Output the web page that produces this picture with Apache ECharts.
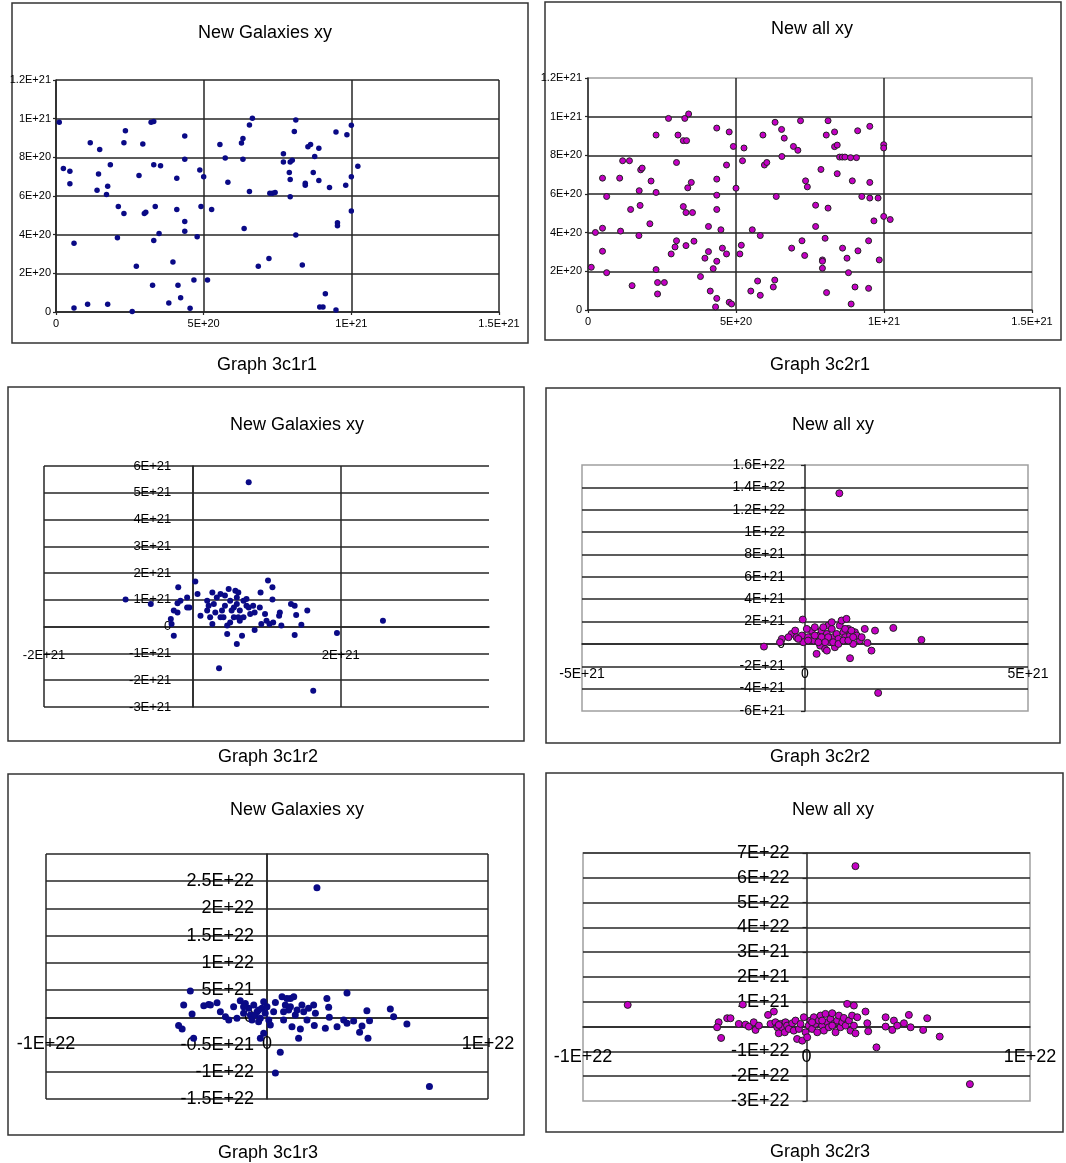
<!DOCTYPE html>
<html><head><meta charset="utf-8">
<script src="https://cdn.jsdelivr.net/npm/echarts@6/dist/echarts.min.js"></script>
<style>html,body{margin:0;padding:0;background:#fff}#c{width:1066px;height:1163px}</style>
</head><body><div id="c"></div>
<script>
// ---------- DATA ----------
// Graph 3c1r1 — New Galaxies xy, units of 1E20
const g3c1r1 = [[0.11,9.81],[0.25,7.42],[0.47,7.28],[0.47,6.64],[0.61,3.56],[0.61,0.21],[1.07,0.40],[1.16,8.76],[1.48,8.40],[1.44,7.14],[1.39,6.30],[1.75,6.51],[1.71,6.08],[1.75,0.40],[1.84,7.62],[2.11,5.46],[2.08,3.84],[2.30,5.09],[2.30,8.76],[2.35,9.38],[2.58,0.03],[2.72,2.36],[2.81,7.06],[2.94,8.69],[2.99,5.09],[3.04,5.16],[3.22,9.81],[3.31,9.85],[3.31,7.62],[3.36,5.46],[3.31,3.70],[3.27,1.38],[3.49,4.06],[3.54,7.56],[3.96,2.58],[3.82,0.46],[4.09,6.92],[4.09,5.30],[4.13,1.38],[4.22,0.74],[4.36,9.10],[4.36,7.90],[4.36,4.68],[4.36,4.18],[4.54,0.19],[4.67,1.65],[4.78,3.89],[4.87,7.35],[4.91,5.46],[5.00,7.00],[5.13,1.65],[5.27,5.30],[5.55,8.67],[5.73,7.97],[5.82,6.71],[6.28,8.74],[6.33,8.97],[6.33,7.90],[6.37,4.32],[6.55,9.67],[6.55,6.23],[6.65,10.02],[6.85,2.36],[7.21,2.77],[7.24,6.14],[7.33,6.14],[7.42,6.18],[7.70,8.19],[7.70,7.76],[7.90,7.21],[7.93,7.76],[8.00,7.85],[7.93,6.85],[7.93,5.96],[8.12,9.93],[8.07,9.33],[8.12,3.98],[8.34,2.43],[8.44,6.66],[8.44,6.56],[8.53,8.55],[8.62,8.67],[8.71,7.21],[8.76,8.04],[8.90,8.47],[8.90,6.80],[8.93,0.26],[9.04,0.26],[9.12,0.95],[9.26,6.44],[9.48,9.31],[9.48,0.10],[9.53,4.61],[9.53,4.46],[9.81,6.56],[9.85,9.17],[10.0,9.66],[10.0,6.99],[10.0,5.23],[10.22,7.54]];
// Graph 3c2r1 — New all xy, units of 1E20
const g3c2r1 = [[0.11,2.21],[0.25,4.01],[0.49,4.23],[0.49,6.82],[0.49,3.04],[0.63,5.87],[0.63,1.93],[1.07,6.82],[1.10,4.08],[1.17,7.72],[1.40,7.72],[1.44,5.20],[1.49,1.26],[1.73,6.17],[1.72,3.85],[1.76,5.41],[1.78,7.25],[1.83,7.34],[2.09,4.46],[2.13,6.67],[2.30,9.05],[2.30,6.08],[2.30,2.09],[2.35,1.42],[2.35,0.83],[2.58,1.42],[2.72,9.91],[2.81,2.90],[2.94,3.26],[2.99,3.58],[2.99,7.63],[3.04,9.05],[3.22,5.35],[3.22,8.76],[3.27,9.91],[3.33,8.76],[3.31,5.04],[3.31,3.33],[3.37,6.32],[3.40,10.14],[3.49,6.60],[3.53,5.04],[3.58,3.56],[3.80,1.73],[3.95,2.68],[4.07,3.02],[4.07,4.32],[4.13,0.98],[4.23,2.14],[4.31,0.16],[4.35,9.41],[4.35,6.77],[4.35,5.94],[4.35,5.20],[4.35,2.52],[4.35,0.60],[4.49,4.15],[4.54,3.20],[4.68,7.50],[4.68,2.90],[4.77,9.21],[4.77,0.40],[4.85,0.31],[4.91,8.46],[5.00,6.30],[5.13,2.90],[5.18,3.35],[5.22,7.72],[5.27,8.38],[5.50,0.98],[5.55,4.15],[5.73,1.50],[5.82,3.85],[5.82,0.76],[5.91,9.05],[5.96,7.50],[6.04,7.63],[6.26,1.19],[6.32,9.71],[6.31,1.55],[6.36,5.87],[6.54,9.34],[6.55,7.94],[6.63,8.89],[6.88,3.20],[6.94,8.46],[7.18,9.79],[7.09,8.26],[7.32,2.82],[7.23,3.58],[7.35,6.68],[7.41,6.37],[7.69,5.42],[7.69,4.32],[7.87,7.27],[7.92,2.59],[7.92,2.52],[7.92,2.16],[8.01,3.71],[8.05,9.05],[8.06,0.90],[8.11,9.79],[8.11,5.27],[8.33,9.21],[8.33,8.45],[8.42,8.53],[8.42,7.05],[8.50,7.91],[8.59,7.91],[8.60,3.20],[8.68,7.91],[8.75,2.68],[8.80,1.93],[8.87,7.88],[8.89,0.31],[8.93,6.68],[9.02,1.19],[9.07,7.88],[9.11,9.27],[9.12,3.06],[9.25,5.87],[9.48,3.58],[9.48,1.12],[9.52,9.50],[9.52,6.60],[9.52,5.79],[9.66,4.61],[9.80,5.79],[9.84,2.59],[9.99,8.55],[9.99,8.38],[9.99,4.84],[10.21,4.68]];
// Graph 3c1r2 — New Galaxies xy, units of 1E21
const g3c1r2 = [[0.76,5.39],[-0.90,1.01],[-0.56,0.85],[-0.19,1.47],[0.04,1.69],[-0.20,0.87],[-0.25,0.60],[-0.20,0.53],[-0.29,0.29],[-0.28,0.10],[-0.25,-0.34],[-0.07,1.09],[-0.04,0.72],[0.07,1.22],[0.11,0.41],[0.20,0.60],[0.27,1.28],[0.27,0.10],[0.29,0.85],[0.33,1.09],[0.38,1.22],[0.40,0.60],[0.42,0.35],[0.47,0.04],[0.47,-0.27],[0.49,1.41],[0.51,0.97],[0.53,0.60],[0.56,0.35],[0.58,1.34],[0.60,0.85],[0.60,-0.65],[0.62,1.28],[0.64,0.60],[0.64,0.22],[0.67,-0.34],[0.69,0.97],[0.73,1.03],[0.76,0.72],[0.82,0.78],[0.84,0.53],[0.84,-0.12],[0.91,0.72],[0.92,1.28],[0.93,0.10],[1.00,0.22],[1.02,1.72],[1.04,0.10],[1.08,1.47],[1.08,1.01],[1.18,0.53],[1.17,0.41],[1.20,0.04],[1.33,0.85],[1.38,0.78],[1.40,0.44],[1.38,-0.31],[1.47,0.07],[1.55,0.60],[1.95,-0.24],[2.57,0.22],[0.36,-1.55],[1.63,-2.39],[0.22,0.78],[0.31,0.53],[0.44,0.78],[0.51,0.16],[0.69,0.35],[0.78,0.47],[0.98,0.47],[1.09,0.16],[-0.07,0.72],[-0.16,0.97],[0.20,0.97],[0.60,1.09],[0.44,1.16],[0.73,0.78],[0.56,0.72],[0.38,0.35],[0.24,0.35],[0.62,0.35]];
// Graph 3c2r2 — New all xy, units of 1E21
const g3c2r2 = [[0.77,13.47],[-0.05,2.18],[-0.92,-0.24],[-0.52,0.45],[-0.56,0.15],[-0.30,0.89],[-0.22,1.19],[-0.19,0.60],[-0.07,0.75],[-0.04,0.15],[0.07,0.60],[0.15,1.19],[0.19,0.30],[0.22,1.49],[0.26,-0.89],[0.30,0.75],[0.34,-0.15],[0.37,1.19],[0.41,0.30],[0.45,-0.45],[0.49,0.89],[0.52,1.64],[0.56,0.15],[0.60,1.34],[0.63,0.60],[0.67,-0.30],[0.71,0.89],[0.75,0.45],[0.78,1.64],[0.82,2.09],[0.86,1.04],[0.90,0.60],[0.93,2.24],[0.97,1.34],[1.01,0.75],[1.01,-1.28],[1.08,0.00],[1.12,1.04],[1.23,0.30],[1.34,1.34],[1.40,0.09],[1.49,-0.60],[1.57,1.19],[1.64,-4.38],[1.98,1.43],[2.61,0.36],[0.37,0.60],[0.52,0.60],[0.45,0.15],[0.63,0.15],[0.75,0.00],[0.90,1.34],[1.04,1.19],[1.16,0.75],[0.60,1.94],[0.41,1.49],[0.22,0.75],[0.07,0.30],[0.30,0.15],[0.49,-0.60],[0.86,0.30],[0.97,0.30],[1.08,0.60],[1.27,0.60],[-0.37,0.60],[-0.15,0.45],[0.04,1.34]];
// Graph 3c1r3 — New Galaxies xy, units of 1E21
const g3c1r3 = [[2.26,23.8],[7.35,-12.7],[-3.47,4.82],[-3.77,2.26],[-4.00,-1.52],[-3.84,-2.13],[-3.39,0.61],[-2.86,2.13],[-2.64,2.38],[-2.26,2.68],[-3.32,-3.84],[-2.11,1.04],[-1.88,0.12],[-1.73,-0.49],[-1.51,1.95],[-1.36,-0.18],[-1.21,3.05],[-1.06,0.73],[-0.98,2.56],[-0.83,1.65],[-0.75,0.43],[-0.68,-0.49],[-0.60,2.26],[-0.45,1.04],[-0.38,-0.79],[-0.30,-3.84],[-0.23,1.65],[-0.15,2.87],[-0.15,-2.93],[-0.08,0.73],[0.00,1.95],[0.08,-0.49],[0.15,-1.40],[0.30,1.04],[0.38,2.74],[0.38,-10.24],[0.60,-6.40],[0.68,3.78],[0.75,-0.49],[0.83,2.26],[0.98,1.34],[1.06,3.48],[1.13,-1.71],[1.21,3.78],[1.28,0.43],[1.43,-3.84],[1.51,-2.13],[1.58,2.26],[1.66,1.04],[1.81,-0.49],[1.88,1.65],[2.11,2.26],[2.14,-1.52],[2.19,0.73],[2.64,-2.01],[2.71,3.48],[2.79,1.83],[2.82,0.00],[3.17,-1.71],[3.47,-0.49],[3.62,4.45],[3.62,-1.10],[3.92,-0.67],[4.19,-2.74],[4.30,-1.59],[4.52,1.22],[4.57,-3.84],[4.64,-0.61],[5.58,1.52],[5.73,0.12],[6.33,-1.22],[-1.06,1.95],[-0.53,0.43],[-0.38,1.34],[0.90,3.48],[1.36,1.34],[0.75,1.04],[1.06,1.95],[-0.30,-0.18],[-2.56,2.26]];
// Graph 3c2r3 — New all xy, units of 1E21
const g3c2r3 = [[2.19,64.7],[7.31,-23.2],[-8.00,8.76],[-2.85,8.90],[-3.93,1.75],[-4.00,-0.27],[-3.82,-4.58],[-3.55,3.37],[-3.40,3.37],[-3.03,1.08],[-2.73,0.81],[-2.58,0.00],[-2.36,1.75],[-2.28,-1.35],[-2.13,0.40],[-1.72,4.72],[-1.61,1.08],[-1.46,6.06],[-1.39,1.75],[-1.31,-0.27],[-1.24,-2.70],[-1.16,1.08],[-1.09,-0.27],[-0.97,-2.29],[-0.94,1.75],[-0.87,0.40],[-0.79,-0.94],[-0.64,1.35],[-0.57,-1.62],[-0.49,2.43],[-0.42,-4.99],[-0.34,-0.94],[-0.27,1.08],[-0.19,-5.66],[-0.12,3.77],[-0.04,-2.29],[0.03,-4.31],[0.10,0.40],[0.18,2.43],[0.25,-0.94],[0.33,3.77],[0.40,1.08],[0.48,-2.29],[0.55,2.43],[0.63,4.45],[0.70,0.40],[0.78,-1.62],[0.85,5.12],[0.93,1.75],[1.00,-0.27],[1.07,3.10],[1.15,5.39],[1.22,1.08],[1.30,-2.29],[1.37,2.43],[1.45,4.45],[1.52,-0.27],[1.60,1.75],[1.67,3.50],[1.75,0.40],[1.82,9.16],[1.90,2.43],[1.97,-1.62],[2.04,4.45],[2.12,0.40],[2.19,-2.70],[2.27,3.77],[2.64,6.06],[2.72,1.35],[2.76,-1.89],[3.13,-8.36],[3.54,3.77],[3.54,0.00],[3.84,-1.35],[3.91,2.43],[4.06,0.40],[4.36,1.35],[4.58,4.72],[4.66,-0.27],[5.22,-1.35],[5.40,3.37],[5.96,-4.04],[2.12,8.49],[0.25,1.75],[0.70,2.43],[1.15,0.40],[-1.24,0.67]];

// Tick labels (as printed on the picture), listed from axis min upwards
const x3c1r1 = ['0','5E+20','1E+21','1.5E+21'];
const y3c1r1 = ['0','2E+20','4E+20','6E+20','8E+20','1E+21','1.2E+21'];
const x3c2r1 = ['0','5E+20','1E+21','1.5E+21'];
const y3c2r1 = ['0','2E+20','4E+20','6E+20','8E+20','1E+21','1.2E+21'];
const x3c1r2 = ['-2E+21','','2E+21',''];
const y3c1r2 = ['-3E+21','-2E+21','-1E+21','0','1E+21','2E+21','3E+21','4E+21','5E+21','6E+21'];
const x3c2r2 = ['-5E+21','0','5E+21'];
const y3c2r2 = ['-6E+21','-4E+21','-2E+21','0','2E+21','4E+21','6E+21','8E+21','1E+22','1.2E+22','1.4E+22','1.6E+22'];
const x3c1r3 = ['-1E+22','0','1E+22'];
const y3c1r3 = ['-1.5E+22','-1E+22','-0.5E+21','0','5E+21','1E+22','1.5E+22','2E+22','2.5E+22',''];
const x3c2r3 = ['-1E+22','0','1E+22'];
const y3c2r3 = ['-3E+22','-2E+22','-1E+22','0','1E+21','2E+21','3E+21','4E+22','5E+22','6E+22','7E+22'];

const chartTitles = ['New Galaxies xy','New all xy','New Galaxies xy','New all xy','New Galaxies xy','New all xy'];
const captions = ['Graph 3c1r1','Graph 3c2r1','Graph 3c1r2','Graph 3c2r2','Graph 3c1r3','Graph 3c2r3'];

// ---------- LAYOUT / STYLE ----------
const FONT = '"Liberation Sans", Arial, sans-serif';
const NAVY = '#0a0a86', MAG = '#c400c4', LINE = '#262626', GRAY = '#a0a0a0';

const panels = [
  { data: g3c1r1, unit: 1e20, xl: x3c1r1, yl: y3c1r1,
    box: [12, 3, 516, 340], title: [265, 33], cap: [267, 365],
    grid: { left: 56, top: 80, width: 443, height: 232 }, border: false,
    x: { min: 0, max: 1.5e21, interval: 5e20 }, y: { min: 0, max: 1.2e21, interval: 2e20 },
    fs: 11, xm: 6, ym: 5, tick: 3,
    xSplit: { show: true, min: true, max: true }, ySplit: { show: true, min: true, max: true },
    color: NAVY, stroke: null, size: 5.5 },
  { data: g3c2r1, unit: 1e20, xl: x3c2r1, yl: y3c2r1,
    box: [545, 2, 516, 338], title: [812, 29], cap: [820, 365],
    grid: { left: 588, top: 78, width: 444, height: 232 }, border: true,
    x: { min: 0, max: 1.5e21, interval: 5e20 }, y: { min: 0, max: 1.2e21, interval: 2e20 },
    fs: 11, xm: 6, ym: 6, tick: 3,
    xSplit: { show: true, min: false, max: false }, ySplit: { show: true, min: false, max: false },
    color: MAG, stroke: '#222', size: 6 },
  { data: g3c1r2, unit: 1e21, xl: x3c1r2, yl: y3c1r2,
    box: [8, 387, 516, 354], title: [297, 425], cap: [268, 757],
    grid: { left: 44, top: 466, width: 445, height: 241 }, border: false,
    x: { min: -2e21, max: 4e21, interval: 2e21 }, y: { min: -3e21, max: 6e21, interval: 1e21 },
    fs: 13, xm: 22, ym: 21, tick: 0,
    xSplit: { show: true, min: true, max: false }, ySplit: { show: true, min: true, max: true },
    color: NAVY, stroke: null, size: 6 },
  { data: g3c2r2, unit: 1e21, xl: x3c2r2, yl: y3c2r2,
    box: [546, 388, 514, 355], title: [833, 425], cap: [820, 757],
    grid: { left: 582, top: 465, width: 446, height: 246 }, border: true,
    x: { min: -5e21, max: 5e21, interval: 5e21 }, y: { min: -6e21, max: 1.6e22, interval: 2e21 },
    fs: 14, xm: 23, ym: 20, tick: 0, yTick: 4,
    xSplit: { show: false }, ySplit: { show: true, min: false, max: false },
    color: MAG, stroke: '#222', size: 7 },
  { data: g3c1r3, unit: 1e21, xl: x3c1r3, yl: y3c1r3,
    box: [8, 774, 516, 361], title: [297, 810], cap: [268, 1153],
    grid: { left: 46, top: 854, width: 442, height: 245 }, border: false,
    x: { min: -1e22, max: 1e22, interval: 1e22 }, y: { min: -1.5e22, max: 3e22, interval: 5e21 },
    fs: 18, xm: 18, ym: 13, tick: 0,
    xSplit: { show: true, min: true, max: true }, ySplit: { show: true, min: true, max: false },
    color: NAVY, stroke: null, size: 7 },
  { data: g3c2r3, unit: 1e21, xl: x3c2r3, yl: y3c2r3,
    box: [546, 773, 517, 359], title: [833, 810], cap: [820, 1152],
    grid: { left: 583, top: 853, width: 447, height: 248 }, border: true,
    x: { min: -1e22, max: 1e22, interval: 1e22 }, y: { min: -3e22, max: 7e22, interval: 1e22 },
    fs: 18, xm: 21, ym: 17, tick: 0, yTick: 4,
    xSplit: { show: false }, ySplit: { show: true, min: false, max: false },
    color: MAG, stroke: '#222', size: 7 }
];

function labelFn(labels, ax) {
  return function (v) {
    const i = Math.round((v - ax.min) / ax.interval);
    return labels[i] !== undefined ? labels[i] : '';
  };
}

const grids = [], xAxes = [], yAxes = [], series = [], graphics = [];
panels.forEach(function (p, i) {
  grids.push(Object.assign({ show: p.border, borderColor: GRAY, borderWidth: 1.5,
    backgroundColor: 'transparent', containLabel: false, outerBoundsMode: 'none' }, p.grid));
  // shift each axis so that it crosses the other axis at zero (Excel style)
  const yOff = -((0 - p.x.min) / (p.x.max - p.x.min)) * p.grid.width;
  const xOff = -((0 - p.y.min) / (p.y.max - p.y.min)) * p.grid.height;
  const common = function (ax, labels, margin, split, tickLen, pos, off) {
    return {
      gridIndex: i, type: 'value', position: pos, offset: off,
      min: ax.min, max: ax.max, interval: ax.interval,
      axisLine: { show: true, onZero: false, lineStyle: { color: LINE, width: 1.5 } },
      axisTick: { show: tickLen > 0, length: tickLen || 3, inside: false, lineStyle: { color: LINE, width: 1.2 } },
      axisLabel: { show: true, margin: margin, color: '#000', fontSize: p.fs, fontFamily: FONT,
        showMinLabel: true, showMaxLabel: true, hideOverlap: false, formatter: labelFn(labels, ax) },
      splitLine: { show: split.show, showMinLine: split.min !== false, showMaxLine: split.max !== false,
        lineStyle: { color: LINE, width: 1.5 } },
      minorTick: { show: false }, minorSplitLine: { show: false }
    };
  };
  xAxes.push(common(p.x, p.xl, p.xm, p.xSplit, p.tick, 'bottom', xOff));
  yAxes.push(common(p.y, p.yl, p.ym, p.ySplit, p.yTick || p.tick, 'left', yOff));
  series.push({
    type: 'scatter', xAxisIndex: i, yAxisIndex: i, silent: true,
    data: p.data.map(function (d) { return [d[0] * p.unit, d[1] * p.unit]; }),
    symbol: 'circle', symbolSize: p.size,
    itemStyle: { color: p.color, borderColor: p.stroke || p.color, borderWidth: p.stroke ? 1 : 0, opacity: 1 },
    z: 5
  });
  graphics.push({ type: 'rect', shape: { x: p.box[0], y: p.box[1], width: p.box[2], height: p.box[3] },
    style: { fill: 'none', stroke: '#333', lineWidth: 1.5 }, silent: true, z: 0 });
  graphics.push({ type: 'text', x: p.title[0], y: p.title[1], silent: true,
    style: { text: chartTitles[i], fill: '#000', font: '18px ' + FONT, align: 'center', verticalAlign: 'middle' } });
  graphics.push({ type: 'text', x: p.cap[0], y: p.cap[1], silent: true,
    style: { text: captions[i], fill: '#000', font: '18px ' + FONT, align: 'center', verticalAlign: 'middle' } });
});

const chart = echarts.init(document.getElementById('c'), null, { renderer: 'canvas', width: 1066, height: 1163 });
chart.setOption({
  backgroundColor: '#ffffff',
  animation: false,
  grid: grids, xAxis: xAxes, yAxis: yAxes, series: series,
  graphic: { elements: graphics }
});
</script>
</body></html>
